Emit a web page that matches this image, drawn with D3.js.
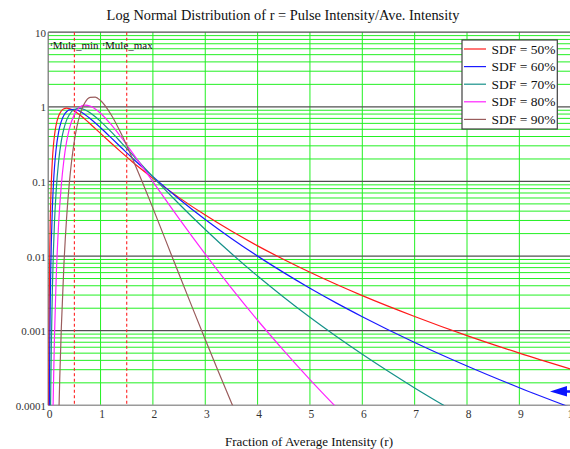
<!DOCTYPE html>
<html>
<head>
<meta charset="utf-8">
<script src="https://cdn.jsdelivr.net/npm/d3@7"></script>
<style>
  body { margin: 0; background: #fff; }
  svg { display: block; }
  text { font-family: "Liberation Serif", "Times New Roman", serif; }
</style>
</head>
<body>
<svg id="chart" width="570" height="449"></svg>
<script>
// ---- data ----------------------------------------------------------------
const chartTitle = "Log Normal Distribution of r = Pulse Intensity/Ave. Intensity";
const xAxisTitle = "Fraction of Average Intensity (r)";

const xTickValues = [0, 1, 2, 3, 4, 5, 6, 7, 8, 9, 10];
const yTickValues = [0.0001, 0.001, 0.01, 0.1, 1, 10];
const yTickLabels = ["0.0001", "0.001", "0.01", "0.1", "1", "10"];

const seriesNames = ["SDF = 50%", "SDF = 60%", "SDF = 70%", "SDF = 80%", "SDF = 90%"];
const seriesColors = ["#ff1a1a", "#1a1aff", "#16918a", "#ff22ff", "#9a5c5c"];

// probability density vs. r, one list of [r, density] pairs per SDF value
const sdf50 = [[0.008,3.05e-5],[0.01,1.0e-4],[0.015,7.13e-4],[0.02,2.49e-3],[0.03,0.0119],[0.04,0.0312],
  [0.05,0.0607],[0.06,0.0991],[0.08,0.195],[0.1,0.303],[0.12,0.413],[0.15,0.564],[0.2,0.759],[0.25,0.879],
  [0.3,0.940],[0.35,0.958],[0.4,0.948],[0.5,0.879],[0.6,0.783],[0.7,0.684],[0.8,0.593],[0.9,0.511],[1,0.440],
  [1.2,0.327],[1.4,0.245],[1.6,0.185],[1.8,0.142],[2,0.110],[2.5,0.0607],[3,0.0354],[3.5,0.0216],[4,0.0137],
  [4.5,0.0090],[5,0.00607],[5.5,0.00419],[6,0.00295],[7,0.00155],[8,0.000858],[9,0.000500],[10,0.000303]];

const sdf60 = [[0.02,5.78e-5],[0.025,2.18e-4],[0.03,5.98e-4],[0.04,2.58e-3],[0.05,7.17e-3],[0.06,0.0154],
  [0.08,0.0449],[0.1,0.0923],[0.12,0.155],[0.15,0.266],[0.2,0.464],[0.25,0.639],[0.3,0.771],[0.35,0.860],
  [0.4,0.910],[0.5,0.926],[0.6,0.873],[0.7,0.790],[0.8,0.697],[0.9,0.607],[1,0.524],[1.2,0.386],[1.4,0.283],
  [1.6,0.208],[1.8,0.155],[2,0.116],[2.5,0.0582],[3,0.0309],[3.5,0.0172],[4,0.00998],[4.5,0.0060],
  [5,0.00371],[5.5,0.00236],[6,0.00154],[7,0.000695],[8,0.000336],[9,0.000172],[10,9.23e-5]];

const sdf70 = [[0.045,9.3e-5],[0.05,1.96e-4],[0.06,6.59e-4],[0.08,3.69e-3],[0.1,0.0120],[0.12,0.0281],
  [0.15,0.0708],[0.2,0.189],[0.25,0.346],[0.3,0.509],[0.35,0.658],[0.4,0.778],[0.5,0.921],[0.6,0.954],
  [0.7,0.913],[0.8,0.833],[0.9,0.737],[1,0.639],[1.2,0.464],[1.4,0.329],[1.6,0.232],[1.8,0.163],[2,0.115],
  [2.5,0.0498],[3,0.0227],[3.5,0.0108],[4,0.0054],[4.5,0.00281],[5,0.00151],[5.5,0.000842],[6,0.000483],
  [7,0.000171],[8,6.58e-5]];

const sdf80 = [[0.09,6.9e-5],[0.1,1.8e-4],[0.12,8.34e-4],[0.15,4.45e-3],[0.2,0.0277],[0.25,0.0886],
  [0.3,0.194],[0.35,0.336],[0.4,0.495],[0.5,0.792],[0.6,0.985],[0.7,1.054],[0.8,1.027],[0.9,0.938],
  [1,0.821],[1.2,0.580],[1.4,0.385],[1.6,0.247],[1.8,0.157],[2,0.099],[2.5,0.0317],[3,0.0106],
  [3.5,0.00372],[4,0.00138],[4.5,0.000541],[5,0.000221],[5.5,9.46e-5],[6,4.2e-5]];

const sdf90 = [[0.2,6.2e-5],[0.22,2.21e-4],[0.25,1.06e-3],[0.3,7.59e-3],[0.35,0.0314],[0.4,0.0892],
  [0.45,0.195],[0.5,0.351],[0.55,0.545],[0.6,0.756],[0.65,0.959],[0.7,1.132],[0.8,1.339],[0.9,1.348],
  [1,1.213],[1.2,0.788],[1.4,0.428],[1.6,0.210],[1.8,0.0974],[2,0.0439],[2.25,0.01585],[2.5,0.0057],
  [2.75,0.00207],[3,7.6e-4],[3.25,2.83e-4],[3.5,1.08e-4],[4,1.66e-5]];

const seriesData = [sdf50, sdf60, sdf70, sdf80, sdf90];

// operating window markers
const muleValues = [0.5, 1.5];
const muleNames = ["Mule_min", "Mule_max"];

// pointer at the lower right, [r, density] of its tip
const arrowTip = [9.585, 1.53e-4];

// ---- drawing -------------------------------------------------------------
const svg = d3.select("#chart");
const plotLeft = 48.2, plotRight = 571.7, plotTop = 32.2, plotBottom = 405.3;

const x = d3.scaleLinear().domain([0, 10]).range([plotLeft, plotRight]);
const y = d3.scaleLog().domain([0.0001, 10]).range([plotBottom, plotTop]);

svg.append("rect").attr("width", 570).attr("height", 449).attr("fill", "#fff");

svg.append("defs").append("clipPath").attr("id", "plotClip")
  .append("rect").attr("x", plotLeft).attr("y", plotTop)
  .attr("width", plotRight - plotLeft).attr("height", plotBottom - plotTop);

// minor horizontal grid (2..9 within each decade)
const minor = y.ticks().filter(v => {
  const m = v / Math.pow(10, Math.floor(Math.log10(v) + 1e-9));
  return Math.abs(m - 1) > 1e-6;
});
svg.append("g").selectAll("line").data(minor).join("line")
  .attr("x1", plotLeft).attr("x2", plotRight)
  .attr("y1", d => y(d)).attr("y2", d => y(d))
  .attr("stroke", "#22f022").attr("stroke-width", 1);

// vertical grid at integer r
svg.append("g").selectAll("line").data(xTickValues.slice(1)).join("line")
  .attr("x1", d => x(d)).attr("x2", d => x(d))
  .attr("y1", plotTop).attr("y2", plotBottom)
  .attr("stroke", "#22f022").attr("stroke-width", 1);

// decade lines
svg.append("g").selectAll("line").data(yTickValues.slice(1, -1)).join("line")
  .attr("x1", plotLeft).attr("x2", plotRight)
  .attr("y1", d => y(d)).attr("y2", d => y(d))
  .attr("stroke", "#505050").attr("stroke-width", 1.3);

// frame
svg.append("line").attr("x1", plotLeft).attr("x2", plotRight).attr("y1", plotTop).attr("y2", plotTop)
  .attr("stroke", "#505050").attr("stroke-width", 1.3);
svg.append("line").attr("x1", plotLeft).attr("x2", plotRight).attr("y1", plotBottom).attr("y2", plotBottom)
  .attr("stroke", "#9a9a9a").attr("stroke-width", 1.6);
svg.append("line").attr("x1", plotLeft).attr("x2", plotLeft).attr("y1", plotTop).attr("y2", plotBottom)
  .attr("stroke", "#707070").attr("stroke-width", 1.2);

// marker lines
svg.append("g").selectAll("line").data(muleValues).join("line")
  .attr("x1", d => x(d)).attr("x2", d => x(d))
  .attr("y1", plotTop).attr("y2", plotBottom)
  .attr("stroke", "#ff2020").attr("stroke-width", 1.1)
  .attr("stroke-dasharray", "3,2.5");

// density curves
const line = d3.line()
  .x(d => x(d[0])).y(d => y(d[1]))
  .curve(d3.curveMonotoneX);
svg.append("g").attr("clip-path", "url(#plotClip)")
  .selectAll("path").data(seriesData).join("path")
  .attr("d", line)
  .attr("fill", "none")
  .attr("stroke", (d, i) => seriesColors[i])
  .attr("stroke-width", 1.2);

// marker labels
muleNames.forEach((name, i) => {
  const t = svg.append("text").attr("x", x(muleValues[i]) - 24).attr("y", 49)
    .attr("fill", "#111");
  t.append("tspan").attr("font-size", 7).attr("dy", -3.5).text("r");
  t.append("tspan").attr("font-size", 11).attr("dy", 3.5).text(name);
});

// tick labels (the last one runs off the right edge)
svg.append("g").selectAll("text").data(xTickValues).join("text")
  .attr("x", d => x(d) + 1.5).attr("y", 418)
  .attr("text-anchor", "middle").attr("font-size", 11.5).attr("fill", "#333")
  .text(d => d);
svg.append("g").selectAll("text").data(yTickValues).join("text")
  .attr("x", 46).attr("y", d => y(d) + 4.5)
  .attr("text-anchor", "end").attr("font-size", 11).attr("fill", "#333")
  .text((d, i) => yTickLabels[i]);

// titles
svg.append("text").attr("x", 283).attr("y", 19.5).attr("text-anchor", "middle")
  .attr("font-size", 14.4).attr("fill", "#111").text(chartTitle);
svg.append("text").attr("x", 309).attr("y", 445.5).attr("text-anchor", "middle")
  .attr("font-size", 13).attr("fill", "#111").text(xAxisTitle);

// legend
const lg = svg.append("g");
lg.append("rect").attr("x", 462).attr("y", 40).attr("width", 95.3).attr("height", 89)
  .attr("fill", "#fff").attr("stroke", "#404040").attr("stroke-width", 1.2);
seriesNames.forEach((name, i) => {
  const cy = 49 + i * 17.6;
  lg.append("line").attr("x1", 464).attr("x2", 486).attr("y1", cy).attr("y2", cy)
    .attr("stroke", seriesColors[i]).attr("stroke-width", 1.2);
  lg.append("text").attr("x", 491.5).attr("y", cy + 4.6)
    .attr("font-size", 13.5).attr("fill", "#111").text(name);
});

// pointer arrow
const ax = x(arrowTip[0]), ay = y(arrowTip[1]);
svg.append("path")
  .attr("d", `M${ax},${ay} L${ax + 17},${ay - 5.5} L${ax + 17},${ay - 1.2} L${ax + 24},${ay - 1.2} L${ax + 24},${ay + 1.2} L${ax + 17},${ay + 1.2} L${ax + 17},${ay + 5} Z`)
  .attr("fill", "#0a14ff");
</script>
</body>
</html>
